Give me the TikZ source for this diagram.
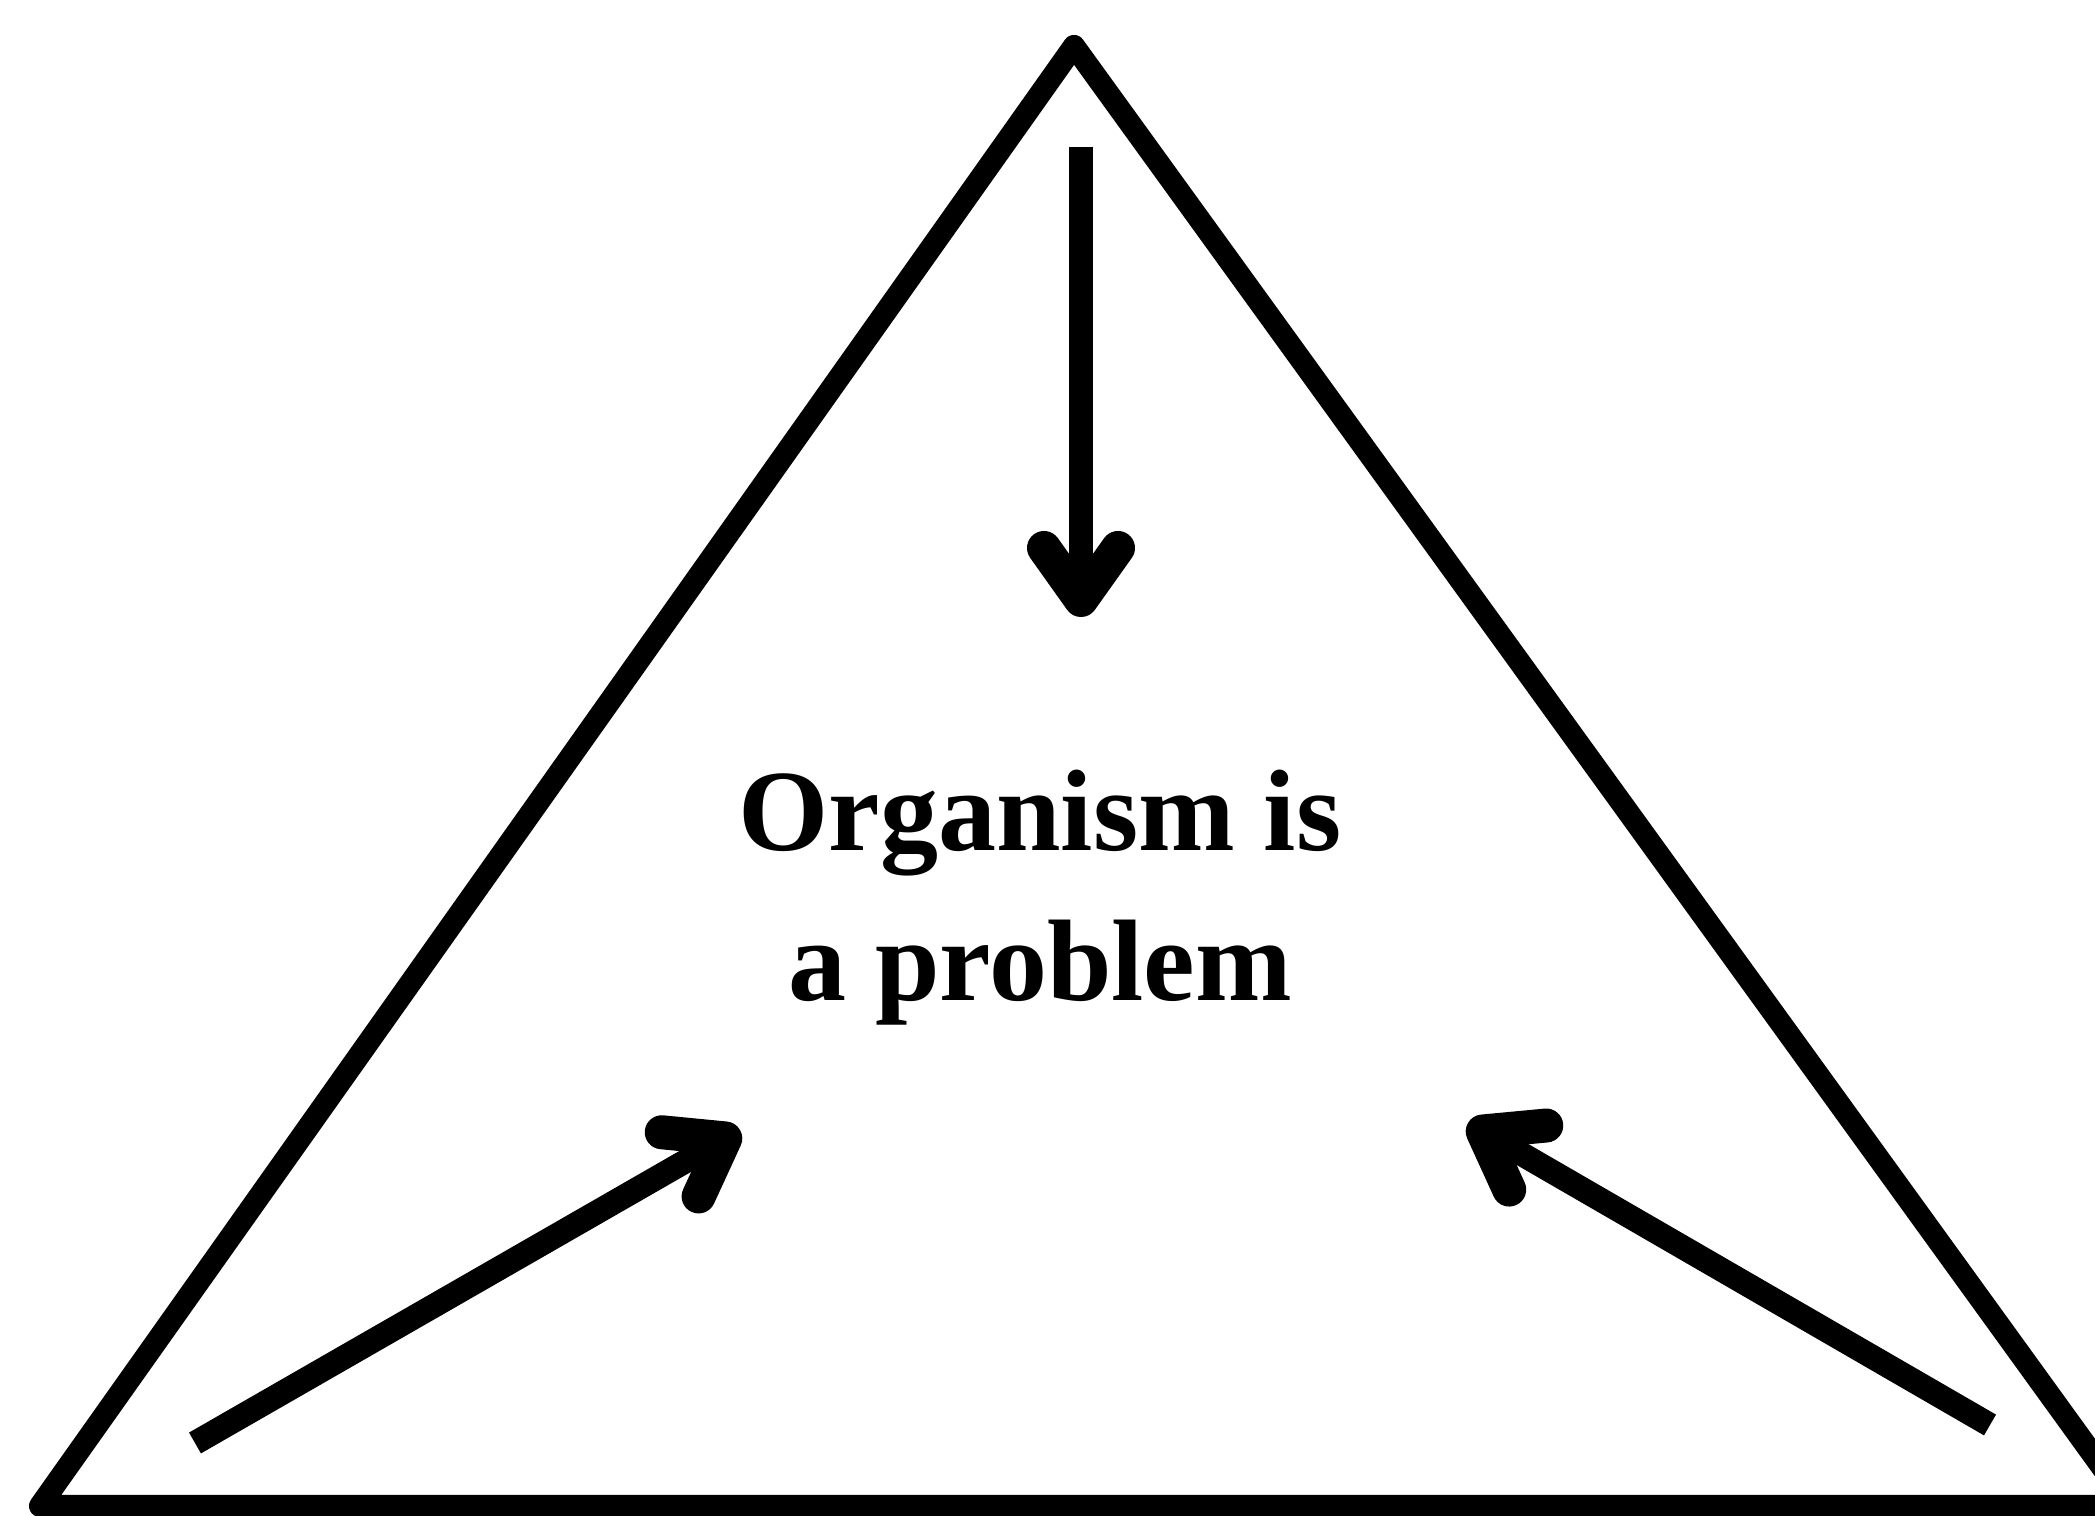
\documentclass[tikz,border=0pt]{standalone}
\usepackage{fontspec}
\newfontfamily\probfont{Liberation Serif}
\usetikzlibrary{arrows.meta}

\begin{document}
\begin{tikzpicture}[
    side/.style={line width=0.22cm, line join=round},
    push/.style={line width=0.24cm,
      -{Straight Barb[length=0.52cm, width=0.74cm, line width=0.34cm, round]}}
  ]
  \useasboundingbox (0,0) rectangle (20.95,15.16);

  % triangle
  \coordinate (top) at (10.74,14.70);
  \coordinate (left) at (0.40,0.10);
  \coordinate (right) at (21.30,0.10);
  \draw[side] (top) -- (left) -- (right) -- cycle;

  \node[font=\probfont\bfseries\fontsize{33}{42.7}\selectfont, align=center]
    (prob) at (10.40,6.18) {Organism is\\a problem};

  % the three pushes
  \coordinate (downtail) at (10.81,13.69);
  \coordinate (downtip) at (10.81,8.99);
  \coordinate (lefttail) at (1.95,0.73);
  \coordinate (lefttip) at (7.40,3.86);
  \coordinate (righttail) at (19.90,0.91);
  \coordinate (righttip) at (14.68,3.93);
  \draw[push] (downtail) -- (downtip);
  \draw[push] (lefttail) -- (lefttip);
  \draw[push] (righttail) -- (righttip);
\end{tikzpicture}
\end{document}
